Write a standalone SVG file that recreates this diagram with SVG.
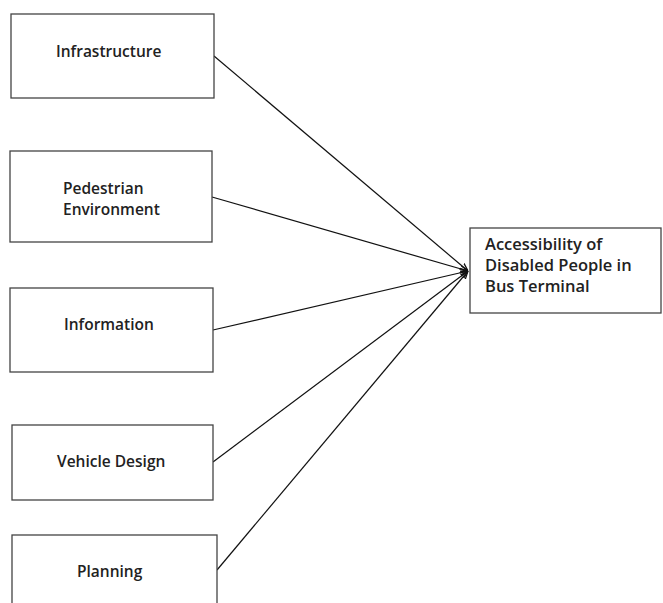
<svg xmlns="http://www.w3.org/2000/svg" width="663" height="603" viewBox="0 0 663 603">
  <defs>
    <marker id="arrow" viewBox="0 0 10 10" refX="10" refY="5" markerWidth="8" markerHeight="8" markerUnits="userSpaceOnUse" orient="auto">
      <path d="M0,1 L10,5 L0,9" fill="none" stroke="#111" stroke-width="1.6"/>
    </marker>
    <style>
      .box { fill: #fff; stroke: #444; stroke-width: 1.3; }
      .lbl { font-family: "Open Sans", "Liberation Sans", sans-serif; font-weight: 600; font-size: 15.5px; fill: #222; }
      .big { font-size: 16.5px; }
      .conn { stroke: #111; stroke-width: 1.2; fill: none; marker-end: url(#arrow); }
    </style>
  </defs>
  <rect width="663" height="603" fill="#fff"/>

  <g id="connectors">
    <line class="conn" x1="214" y1="56" x2="468" y2="271"/>
    <line class="conn" x1="212" y1="197" x2="468" y2="271"/>
    <line class="conn" x1="213" y1="330" x2="468" y2="271"/>
    <line class="conn" x1="213" y1="462" x2="468" y2="271"/>
    <line class="conn" x1="217" y1="570" x2="468" y2="271"/>
  </g>

  <g id="infrastructure">
    <rect class="box" x="11" y="14" width="203" height="84"/>
    <text class="lbl" x="56" y="57">Infrastructure</text>
  </g>

  <g id="pedestrian">
    <rect class="box" x="10" y="151" width="202" height="91"/>
    <text class="lbl" x="63" y="194">Pedestrian</text>
    <text class="lbl" x="63" y="215">Environment</text>
  </g>

  <g id="information">
    <rect class="box" x="10" y="288" width="203" height="84"/>
    <text class="lbl" x="64" y="330">Information</text>
  </g>

  <g id="vehicle-design">
    <rect class="box" x="12" y="425" width="201" height="75"/>
    <text class="lbl" x="57" y="467">Vehicle Design</text>
  </g>

  <g id="planning">
    <rect class="box" x="12" y="535" width="205" height="90"/>
    <text class="lbl" x="77" y="577">Planning</text>
  </g>

  <g id="accessibility">
    <rect class="box" x="470" y="228" width="191" height="85"/>
    <text class="lbl big" x="485" y="250">Accessibility of</text>
    <text class="lbl big" x="485" y="271">Disabled People in</text>
    <text class="lbl big" x="485" y="292">Bus Terminal</text>
  </g>
</svg>
